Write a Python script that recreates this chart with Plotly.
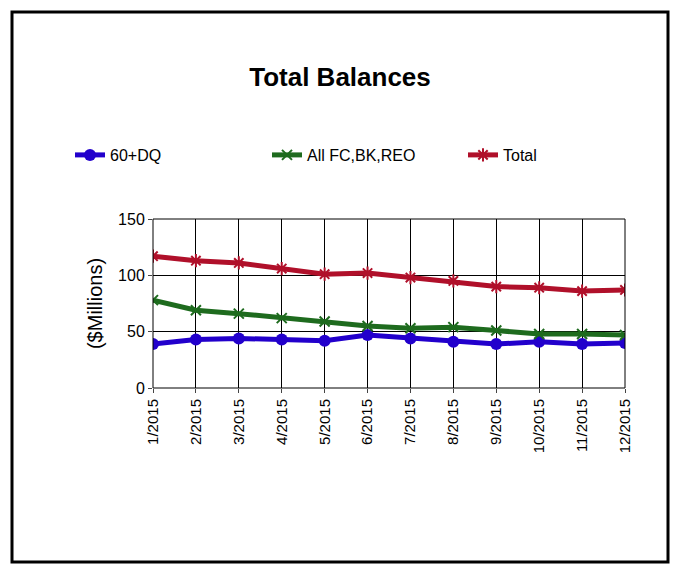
import plotly.graph_objects as go

months = ["1/2015", "2/2015", "3/2015", "4/2015", "5/2015", "6/2015",
          "7/2015", "8/2015", "9/2015", "10/2015", "11/2015", "12/2015"]
dq60 = [39, 43, 44, 43, 42, 47, 44, 41, 39, 41, 39, 40]
fc_bk_reo = [78, 69, 66, 62, 59, 55, 53, 54, 51, 48, 48, 47]
total = [117, 113, 111, 106, 101, 102, 98, 95, 90, 89, 86, 87]

# page body has an 8px margin, so the figure is drawn offset by 8px
OFF = 8
W, H = 688 - OFF, 564 - OFF
L, R, T, B = 153 - OFF, 625 - OFF, 219 - OFF, 388 - OFF


def px_x(p):
    return (p - OFF - L) / (R - L)


def px_y(p):
    return (B - (p - OFF)) / (B - T)


xs = list(range(len(months)))
fig = go.Figure()
fig.add_trace(go.Scatter(x=xs, y=dq60, name="60+DQ", mode="lines+markers", legend="legend",
                         line=dict(color="#2200CC", width=5),
                         marker=dict(symbol="circle", size=12, color="#2200CC")))
fig.add_trace(go.Scatter(x=xs, y=fc_bk_reo, name="All FC,BK,REO", mode="lines+markers", legend="legend2",
                         line=dict(color="#1E6B1E", width=5),
                         marker=dict(symbol="x-thin-open", size=10, line=dict(color="#1E6B1E", width=2))))
fig.add_trace(go.Scatter(x=xs, y=total, name="Total", mode="lines+markers", legend="legend3",
                         line=dict(color="#B0102A", width=5),
                         marker=dict(symbol="asterisk-open", size=11, line=dict(color="#B0102A", width=2))))

shapes = [
    dict(type="rect", xref="paper", yref="paper", x0=px_x(12), x1=px_x(668), y0=px_y(562), y1=px_y(12),
         line=dict(color="black", width=3)),
    dict(type="rect", xref="paper", yref="paper", x0=0, x1=1, y0=0, y1=1,
         line=dict(color="black", width=1)),
]


def leg(px):
    return dict(orientation="h", xref="container", yref="container", x=(px - OFF) / W,
                y=1 - (155 - OFF) / H, yanchor="middle", xanchor="left",
                font=dict(size=16), itemwidth=30, bgcolor="rgba(0,0,0,0)")


fig.update_layout(
    width=W, height=H,
    margin=dict(l=L, r=W - R, t=T, b=H - B, autoexpand=False),
    paper_bgcolor="white", plot_bgcolor="white",
    font=dict(family="Liberation Sans, Arial", size=16, color="black"),
    title=dict(text="<b>Total Balances</b>", x=(340 - OFF) / W, xref="container", xanchor="center",
               y=1 - (77 - OFF) / H, yanchor="middle", font=dict(size=26)),
    showlegend=True,
    legend=leg(70), legend2=leg(267), legend3=leg(463),
    xaxis=dict(range=[0, 11], tickmode="array", tickvals=xs, ticktext=months, tickangle=-90,
               showgrid=True, gridcolor="black", gridwidth=1, zeroline=False, automargin=False,
               showline=False, ticks="outside", ticklen=4, tickfont=dict(size=15)),
    yaxis=dict(range=[0, 150], tickvals=[0, 50, 100, 150], showgrid=True, gridcolor="black",
               gridwidth=1, zeroline=False, ticks="outside", ticklen=4, automargin=False,
               title=dict(text="($Millions)", font=dict(size=20), standoff=10), tickfont=dict(size=16)),
    shapes=shapes,
)

fig.write_html("out.html")
